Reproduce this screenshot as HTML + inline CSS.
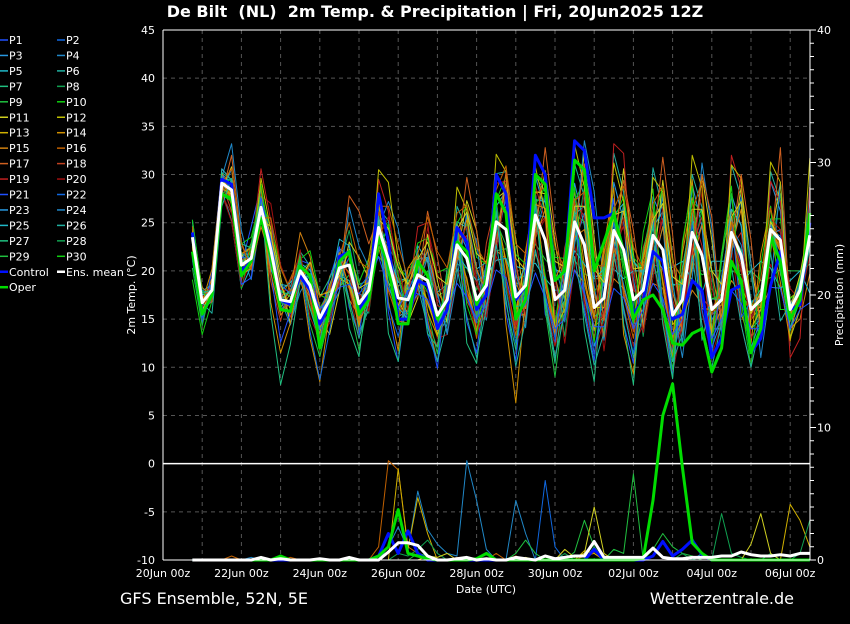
<!DOCTYPE html>
<html><head><meta charset="utf-8">
<style>
html,body{margin:0;padding:0;background:#000;}
body{width:850px;height:620px;overflow:hidden;font-family:"DejaVu Sans","Liberation Sans",sans-serif;}
svg text{fill:#fff;white-space:pre;}
</style></head>
<body>
<svg id="chart" width="850" height="620" xmlns="http://www.w3.org/2000/svg" xml:space="preserve">
<rect x="0" y="0" width="850" height="620" fill="#000"/>
<text x="435" y="17" font-size="16" font-weight="bold" text-anchor="middle">De Bilt  (NL)  2m Temp. &amp; Precipitation | Fri, 20Jun2025 12Z</text>
<text x="120" y="604" font-size="16">GFS Ensemble, 52N, 5E</text>
<text x="794" y="604" font-size="16" text-anchor="end">Wetterzentrale.de</text>
<text x="486" y="593" font-size="11" text-anchor="middle">Date (UTC)</text>
<text x="135" y="295" font-size="11" text-anchor="middle" transform="rotate(-90 135 295)">2m Temp. (°C)</text>
<text x="843" y="295" font-size="11" text-anchor="middle" transform="rotate(-90 843 295)">Precipitation (mm)</text>
<g id="grid"></g><g id="series"></g><g id="axes"></g><g id="legend"></g>
</svg>
<script>
const NS="http://www.w3.org/2000/svg";
const xLabels=["20Jun 00z","22Jun 00z","24Jun 00z","26Jun 00z","28Jun 00z","30Jun 00z","02Jul 00z","04Jul 00z","06Jul 00z"];
const tTicks=[-10,-5,0,5,10,15,20,25,30,35,40,45];
const pTicks=[0,10,20,30,40];
const startDay=0.75, stepDay=0.25;
const meanT=[23.5,16.7,18,29.1,28.4,20.6,21.3,26.6,22.2,17,16.8,20,18.5,15.1,17,20.3,20.6,16.6,18,24.5,21.2,17.2,17,19.6,19,15.4,17,22.7,21.3,17,18.5,25.1,24.3,17.3,18.5,25.8,23.2,17,18,25.1,22.7,16.2,17.2,24.2,22.2,17,18,23.7,22.2,15.4,17,24,21.6,16,17,24,21.6,16,17,24.3,23.2,16,18,23.7];
const controlT=[24,15.5,17.5,29.5,29,20,21,26,22,17,16.5,19.5,18,14.5,16.5,21.5,22,16,17.5,28,23,15,15,19,18.5,14,16,24.5,23,16,17.5,30,28,17,18.5,32,30,19,20,33.5,32.5,25.5,25.5,26,22,15.5,17,22,21,15,15.5,19,18,11,13,18,18.5,11.5,13,18.5,22,16,16.5,25];
const operT=[22,15.5,17.5,28,27.5,19.5,21,25.5,21.5,16,15.8,20.5,19.5,12,16,21,22,15.5,17,23.5,20.5,14.5,14.5,21,19.5,15,17,23,22,16.5,19,28,26,15,17,30,29,19,20,31.5,30.5,20,23,26,22,15,17,17.5,16,12.5,12.3,13.5,14,9.5,12,21,19,11.5,14,23.5,21,15,17,26];
const dev1=[0,-1,0,1,0.5,-0.5,0,1,0,-1,0,1,0,-1,0,2,1,-1,0,3,2,-2,-1,1,3,-1,0,2,1,-2,-1,3,2,-3,-1,4,3,-3,-1,4,2,-4,-2,5,3,-3,-2,4,3,-4,-2,5,3,-4,-2,4,3,-4,-2,5,3,-3,-2,4];
const dev2=[1,0,-0.5,-1,0,1,0.5,-1,1,1,0.5,-1,0,1,1,-2,-1,2,1,-3,-1,2,2,-1,1,2,1,-2,-1,1,2,-3,-2,2,1,-3,-2,3,2,-4,-3,3,2,-3,-1,4,2,-4,-2,3,2,-3,-2,4,3,-4,-2,4,2,-5,-3,4,2,-3];
const dev3=[0.5,0.5,0,0.5,1,-1,-0.5,2,1,-1,-1,2,2,-2,-1,1,0,-3,-2,2,4,1,-1,-2,0,-2,-2,4,3,-2,-1,5,6,-1,-2,4,5,-2,-1,6,5,-1,-1,8,6,-2,-2,7,4,-3,-3,6,5,-2,-3,7,6,-2,-2,6,4,-2,-1,5];
const dev4=[-1,-0.5,0.5,0,-0.5,0.5,-1,-2,-1,0,1,4,3,1,0,-1,-2,-2,-1,-2,-3,-1,1,2,2,-1,-1,-1,-2,-3,-2,-3,-3,-2,-3,-4,-4,-3,-2,-5,-4,-2,-2,-5,-4,-2,-1,-5,-4,-3,-2,-6,-5,-2,-1,-5,-4,-2,-1,-6,-5,-2,-3,-4];
const dev5=[0,0.5,0.5,1.5,1,0.5,0.5,4,3,-1,-1,0,0,-2,-1,1,-1,-1,-2,5,5,2,0,5,6,1,-1,2,2,-3,-3,4,5,-3,-2,3,2,-2,0,2,3,-1,-2,9,10,1,-1,-3,-2,-3,-3,2,1,-5,-4,8,7,-3,-2,5,4,-5,-5,5];
const dev6=[0,1,0,1.5,1,-1,-1,-1,-2,1,2,0,-1,0,1,3,2,0,1,1,-1,-1,-2,3,2,-1,0,-1,-1,2,1,-4,-3,1,2,-5,-4,1,0,-3,-2,3,3,-4,-3,3,2,-2,-2,5,4,-5,-4,5,4,-3,-3,4,4,-4,-5,3,2,-6];
const dev7=[-1,0,0,-0.5,-0.5,-1,-1,3,2,-1,-1,0,-1,0,-1,-1,-2,-1,-1,6,8,4,1,-1,-2,-2,-1,6,5,-1,-1,7,6,-2,-2,5,3,-3,-2,8,6,0,-1,7,5,-2,-1,6,6,-1,-1,8,7,-3,-2,7,8,-2,-1,7,6,-3,-2,8];
const dev8=[0.5,-1,-1,0,0,-2,-2,1,1,0,0,-1,0,1,0,-2,-2,1,1,-3,-3,-1,1,-2,-2,-1,-1,-4,-4,-2,-2,-5,-5,-2,-2,-6,-6,-3,-3,-5,-5,-2,-3,-6,-5,-3,-2,-5,-5,-2,-2,-5,-4,-3,-2,-6,-5,-2,-3,-6,-5,-2,-2,-7];
const meanP=[0,0,0,0,0,0,0,0.2,0,0.1,0,0,0,0.1,0,0,0.2,0,0,0,0.6,1.3,1.3,1.1,0.3,0,0,0.1,0.2,0,0.1,0,0,0.2,0.1,0,0.3,0.1,0.2,0.3,0.3,1.4,0.2,0.2,0.2,0.2,0.2,0.9,0.2,0.1,0.1,0.2,0.2,0.2,0.3,0.3,0.6,0.4,0.3,0.3,0.4,0.3,0.5,0.5];
const controlP=[0,0,0,0,0,0,0,0,0,0,0,0,0,0,0,0,0,0,0,0.3,2,0.5,2.2,0.5,0,0,0,0,0,0,0,0,0,0,0,0,0,0,0,0,0,0.8,0,0,0,0,0,0.3,1.4,0.3,0.8,1.5,0.4,0,0,0,0,0,0,0,0,0,0,0];
const operP=[0,0,0,0,0,0,0,0,0,0.3,0,0,0,0,0,0,0,0,0,0.3,1,3.8,0.5,0.3,0.1,0,0,0,0,0.1,0.5,0,0,0,0,0,0,0,0,0,0,0,0,0,0,0,0.1,4.5,10.9,13.3,7,1.3,0.5,0,0,0,0,0,0,0,0,0,0,0];
const memP1=[0,0,0,0,0.3,0,0,0,0,0,0.2,0,0,0,0,0,0,0,0,1,7.5,6.8,1,0.5,0,0,0,0.2,0,0,0,0.5,0,0.3,0,0,0,0,0,0,0.3,0.5,0,0,0,0,0,0,0,0,0,0,0,0,0,0,0,0,0,0,0,0,0,0];
const memP2=[0,0,0,0,0,0,0.2,0,0,0,0,0,0,0,0,0,0,0,0,0,1,2.5,0.8,5.2,2.3,1.2,0.5,0.3,7.5,4.5,0.8,0,0,4.5,2,0,0,0,0,0,0,0,0,0,0,0,0,0,0,0,0,0,0.5,0,0,0,0,0,0,0,0,0,0,0];
const memP3=[0,0,0,0,0,0,0,0,0,0,0,0,0,0,0,0,0,0,0,0,0,6.9,0.8,4.7,2,0,0,0,0,0,0,0,0,0,0,0,0,0,0,0,0.7,0.5,0,0,0,0,0,0,0,0,0,0,0,0,0,0,0,0,0,0,0,4.2,3,1];
const memP4=[0,0,0,0,0,0,0,0,0,0,0,0,0,0,0,0,0,0,0,0,0,0,0,0,0,0,0,0,0,0,0,0,0,0,0,0,6,1,0,0,0,0,0,0,0,0,0,0,0,0,0,0,0,0,0,0,0,0,0,0,0,0,0,0];
const memP5=[0,0,0,0,0,0,0,0,0,0,0,0,0,0,0,0,0,0,0,0,0,0,0,0.5,0.3,0,0,0,0,0,0,0,0,0.5,1.5,0.5,0,0,0,0.6,3,1,0,0.8,0.5,6.5,0,0.8,2,1,0.5,0.3,0,0,0,0,0,0,0,0,0,0,0,0];
const memP6=[0,0,0,0,0,0,0,0,0,0,0,0,0,0,0,0,0,0,0,0,0,0.5,0.3,0.8,1.5,0.5,0,0,0,0,0,0,0,0,0,0,0,0,0.5,0,0,1,0,0,0,0,0,0,0,0,0.5,0,0.3,0,3.5,0.5,0.2,0,0,0.5,0,0,0.5,3];
const memP7=[0,0,0,0,0,0,0,0,0,0,0,0,0,0,0,0,0,0,0,0,0,0,0,0,0.3,0.2,0.5,0,0,0,0,0,0,0,0.2,0,0,0,0.8,0.2,0.5,4,0.5,0,0,0,0,0,0,0,0,0,0,0,0,0,0,1.2,3.5,0.5,0,0,0,0];
const legendNames=["P1","P2","P3","P4","P5","P6","P7","P8","P9","P10","P11","P12","P13","P14","P15","P16","P17","P18","P19","P20","P21","P22","P23","P24","P25","P26","P27","P28","P29","P30"];

const pal=["#2050ff","#1068e0","#2898e0","#2088c8","#20b8c8","#20b0a0","#20c080","#10a050","#20c040","#10d010","#d0d020","#c0c000","#d0b000","#d09000","#d08010","#c06000","#d06020","#c04020","#c02020","#a01010"];
const memberColor=i=>pal[i%20];

function xD(d){return 163+d*39.2;}
function xI(i){return xD(startDay+i*stepDay);}
function yT(t){return 560-(t+10)*530/55;}
function yP(p){return 560-p*13.25;}
function el(tag,attrs,parent){const e=document.createElementNS(NS,tag);for(const k in attrs)e.setAttribute(k,attrs[k]);parent.appendChild(e);return e;}

const grid=document.getElementById('grid'),axes=document.getElementById('axes'),series=document.getElementById('series'),legend=document.getElementById('legend');

for(let d=1;d<=16;d++){
  const g=el('line',{x1:xD(d),x2:xD(d),y1:30,y2:560,stroke:'#555','stroke-dasharray':'4,4','stroke-width':1},grid);
  
  
}
tTicks.forEach(t=>{
  if(t===-10||t===45)return;
  const g=el('line',{x1:163,x2:810,y1:yT(t),y2:yT(t),stroke:t===0?'#fff':'#555','stroke-dasharray':t===0?'':'4,4','stroke-width':t===0?1.5:1},grid);
  
  
});

function drawLine(vals,fy,color,w,name){
  let d='';vals.forEach((v,i)=>{d+=(i?'L':'M')+xI(i).toFixed(1)+','+fy(v).toFixed(1);});
  const p=el('path',{d:d,fill:'none',stroke:color,'stroke-width':w,'stroke-linejoin':'round'},series);
  
  
}
const devs=[dev1,dev2,dev3,dev4,dev5,dev6,dev7,dev8];
const devColors=[2,8,5,14,18,4,11,0];
devs.forEach((dv,k)=>{
  drawLine(meanT.map((m,i)=>m+dv[i]),yT,memberColor(devColors[k]),1,'member-temp-line');
  drawLine(meanT.map((m,i)=>m-dv[(i+7)%dv.length]*0.8),yT,memberColor(devColors[k]+10),1,'member-temp-line');
  drawLine(meanT.map((m,i)=>m+dv[(i+3)%dv.length]*1.2),yT,memberColor(devColors[k]+5),1,'member-temp-line');
  drawLine(meanT.map((m,i)=>m-dv[(i+11)%dv.length]*1.1),yT,memberColor(devColors[k]+15),1,'member-temp-line');
});
const memPs=[memP1,memP2,memP3,memP4,memP5,memP6,memP7];
const memPColors=[15,3,12,1,8,7,10];
memPs.forEach((mp,k)=>drawLine(mp,yP,memberColor(memPColors[k]),1,'member-precip-line'));
drawLine(controlP,yP,'#0010ff',3,'control-precip-line');
drawLine(operP,yP,'#00dd00',3,'oper-precip-line');
drawLine(meanP,yP,'#ffffff',3,'mean-precip-line');
drawLine(controlT,yT,'#0010ff',3,'control-temp-line');
drawLine(operT,yT,'#00dd00',3,'oper-temp-line');
drawLine(meanT,yT,'#ffffff',3,'mean-temp-line');

[[163,30,163,560],[810,30,810,560],[163,560,810,560],[163,30,810,30]].forEach((c,k)=>{
  const a=el('line',{x1:c[0],y1:c[1],x2:c[2],y2:c[3],stroke:'#fff','stroke-width':1},axes);
  
  
});
tTicks.forEach(t=>{
  const tx=el('text',{x:155,y:yT(t)+4,'font-size':11,'text-anchor':'end'},axes);
  tx.textContent=t;
  
  
});
for(let p=0;p<=40;p++){
  const tk=el('line',{x1:810,x2:p%10===0?816:814,y1:yP(p),y2:yP(p),stroke:'#fff'},axes);
  
  
}
pTicks.forEach(p=>{
  const tx=el('text',{x:817,y:yP(p)+4,'font-size':11},axes);
  tx.textContent=p;
  
  
});
xLabels.forEach((l,i)=>{
  const tx=el('text',{x:xD(i*2),y:577,'font-size':11,'text-anchor':'middle'},axes);
  tx.textContent=l;
  
  
});

const legItems=legendNames.map((n,i)=>({n:n,c:memberColor(i)})).concat([{n:'Control',c:'#0010ff'},{n:'Ens. mean',c:'#fff'},{n:'Oper',c:'#00dd00'}]);
legItems.forEach((it,i)=>{
  const col=i%2,row=Math.floor(i/2);
  const x=col?57:0,y=40+row*15.45;
  const ln=el('line',{x1:x,x2:x+8,y1:y,y2:y,stroke:it.c,'stroke-width':(i>=30?2.5:1.5)},legend);
  
  
  const tx=el('text',{x:x+9,y:y+4,'font-size':11},legend);
  tx.textContent=it.n;
  
  
});
</script>
</body></html>
